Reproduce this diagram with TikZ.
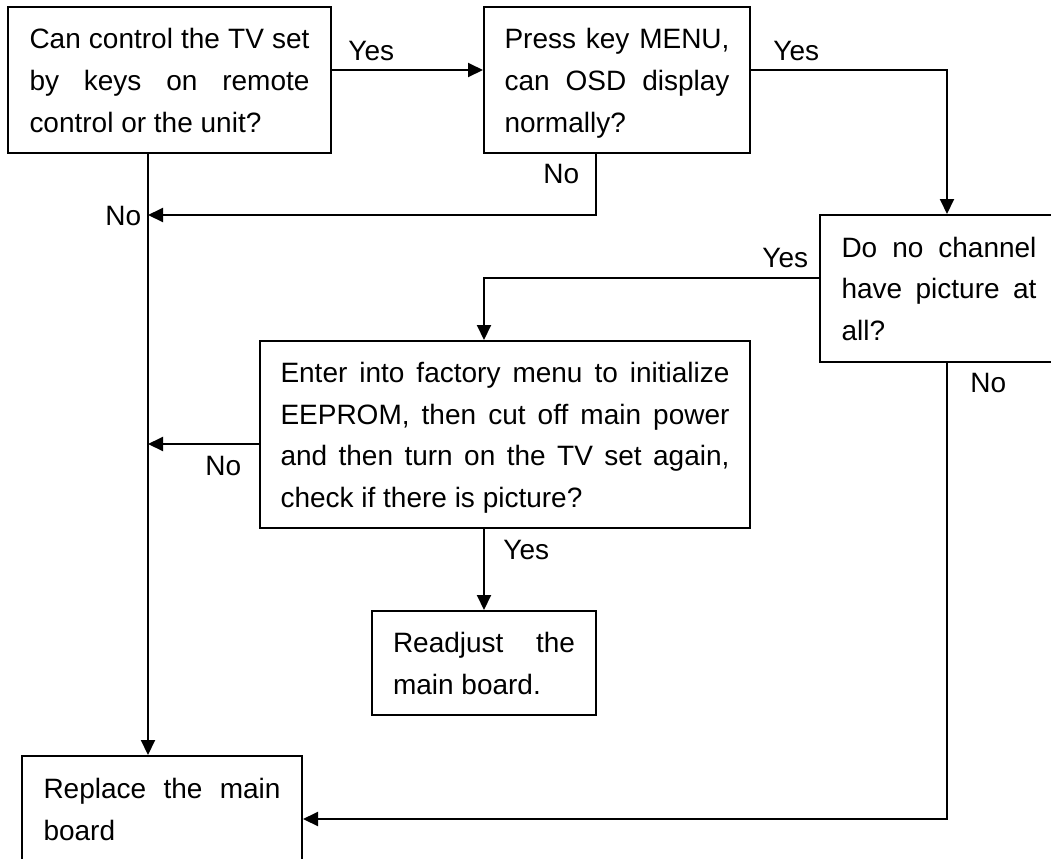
\documentclass[tikz,border=0pt]{standalone}
\usepackage{fontspec}
\setmainfont{Liberation Sans}
\usetikzlibrary{arrows.meta}
\newcommand\boxstrut{\rule[-0.25\baselineskip]{0pt}{\baselineskip}}
\begin{document}
\begin{tikzpicture}[x=0.5pt,y=-0.5pt,
  txt/.style={font=\fontsize{14pt}{20.8pt}\selectfont},
  box/.style={txt,draw,line width=1pt,rectangle,inner xsep=0pt,inner ysep=0pt,align=justify,
    execute at begin node=\boxstrut, execute at end node=\boxstrut},
  lbl/.style={txt,inner sep=0pt,anchor=base west},
  arr/.style={line width=1pt,-{Triangle[length=7.5pt,width=7pt]}}]
\useasboundingbox (0,0) rectangle (1051,858);
% boxes
\node[box,minimum width=161.5pt,minimum height=73pt,text width=140pt] (B1) at (169.5,80)
  {Can control the TV set\linebreak by keys on remote\linebreak control or the unit?};
\node[box,minimum width=133pt,minimum height=73pt,text width=112.5pt] (B2) at (617,80)
  {Press key MENU,\linebreak can OSD display\linebreak normally?};
\node[box,minimum width=119pt,minimum height=73.5pt,text width=97.5pt] (B3) at (939,288.5)
  {Do no channel\linebreak have picture at\linebreak all?};
\node[box,minimum width=245pt,minimum height=93.5pt,text width=224.5pt] (B4) at (505,434.5)
  {Enter into factory menu to initialize\linebreak EEPROM, then cut off main power\linebreak and then turn on the TV set again,\linebreak check if there is picture?};
\node[box,minimum width=112pt,minimum height=52pt,text width=91pt] (B5) at (484,663)
  {Readjust the\linebreak main board.};
\node[box,minimum width=140pt,minimum height=53pt,text width=118.5pt] (B6) at (162,809)
  {Replace the main\linebreak board};
% helper coordinates
\coordinate (xL) at (148,0);
\coordinate (xN) at (596,0);
\coordinate (xR) at (947,0);
\coordinate (xM) at (484,0);
\coordinate (yA) at (0,70);
\coordinate (yB) at (0,278);
\coordinate (yC) at (0,819);
\coordinate (yD) at (0,444);
\coordinate (j1) at (148,215);
\coordinate (j2) at (148,444);
% connectors
\draw[arr] (B1.east |- yA) -- (B2.west |- yA);
\draw[arr] (B1.south -| xL) -- (B6.north -| xL);
\draw[arr] (B2.south -| xN) |- (j1);
\draw[arr] (B2.east |- yA) -| (B3.north -| xR);
\draw[arr] (B3.west |- yB) -| (B4.north -| xM);
\draw[arr] (B3.south -| xR) |- (B6.east |- yC);
\draw[arr] (B4.west |- yD) -- (j2);
\draw[arr] (B4.south -| xM) -- (B5.north -| xM);
% labels
\node[lbl] (l1) at (348,60) {Yes};
\node[lbl] (l2) at (773,60) {Yes};
\node[lbl] (l3) at (543,183) {No};
\node[lbl] (l4) at (105,225) {No};
\node[lbl] (l5) at (762,267) {Yes};
\node[lbl] (l6) at (970,392) {No};
\node[lbl] (l7) at (205,475) {No};
\node[lbl] (l8) at (503,559) {Yes};
\end{tikzpicture}
\end{document}
